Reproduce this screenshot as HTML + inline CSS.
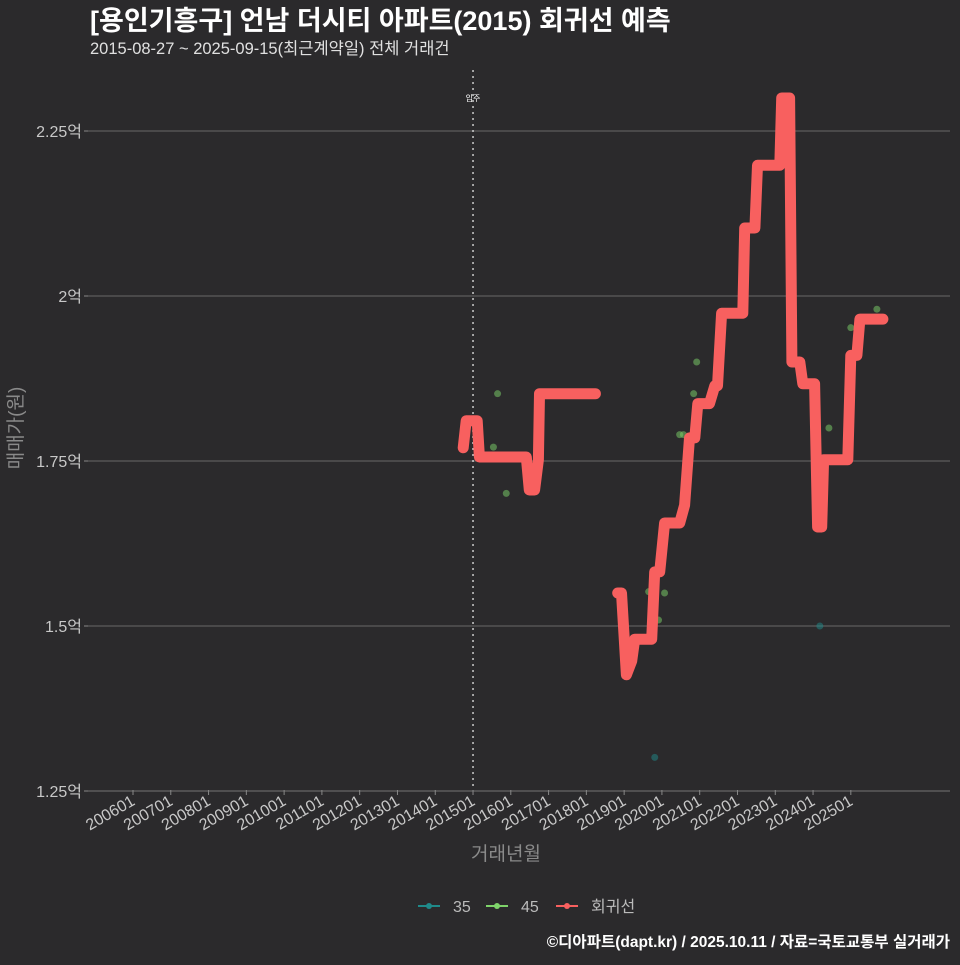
<!DOCTYPE html>
<html><head><meta charset="utf-8"><style>
body{margin:0;background:#2b2a2c;}
svg text{font-family:"Liberation Sans","Noto Sans CJK KR",sans-serif;}
</style></head><body>
<svg id="chart" width="960" height="960" viewBox="0 0 960 960" xmlns="http://www.w3.org/2000/svg">
<rect width="960" height="960" fill="#2b2a2c"/>
<text x="90" y="30" fill="#fff" font-size="27" font-weight="bold">[용인기흥구] 언남 더시티 아파트(2015) 회귀선 예측</text>
<text x="90" y="54" fill="#e0e0e0" font-size="16.5">2015-08-27 ~ 2025-09-15(최근계약일) 전체 거래건</text>
<g id="grid"></g><g id="axes"></g><g id="marks"></g>
<text x="506" y="860" fill="#8a8a8a" font-size="19" text-anchor="middle">거래년월</text>
<text transform="translate(22,428) rotate(-90)" fill="#8a8a8a" font-size="19" text-anchor="middle">매매가(원)</text>
<g>
<g><line x1="418" y1="906" x2="440" y2="906" stroke="#1f8a8a" stroke-width="2"/><circle cx="429" cy="906" r="3" fill="#1f8a8a"/><text x="453" y="912" fill="#bbb" font-size="16">35</text></g>
<g><line x1="486" y1="906" x2="508" y2="906" stroke="#7ed36a" stroke-width="2"/><circle cx="497" cy="906" r="3" fill="#7ed36a"/><text x="521" y="912" fill="#bbb" font-size="16">45</text></g>
<g><line x1="556" y1="906" x2="578" y2="906" stroke="#f8605f" stroke-width="2"/><circle cx="567" cy="906" r="3" fill="#f8605f"/><text x="591" y="912" fill="#bbb" font-size="16">회귀선</text></g>
</g>
<text x="950" y="947" fill="#fff" font-size="15.5" font-weight="bold" text-anchor="end">©디아파트(dapt.kr) / 2025.10.11 / 자료=국토교통부 실거래가</text>
</svg>
<script>
const yTicks=[1.25,1.5,1.75,2,2.25];
const yTickLabels=["1.25억","1.5억","1.75억","2억","2.25억"];
const xTickYears=[2006,2007,2008,2009,2010,2011,2012,2013,2014,2015,2016,2017,2018,2019,2020,2021,2022,2023,2024,2025];
const xTickLabels=["200601","200701","200801","200901","201001","201101","201201","201301","201401","201501","201601","201701","201801","201901","202001","202101","202201","202301","202401","202501"];
const moveInYear=2015;
const seg1X=[2014.74,2014.82,2015.11,2015.17,2016.41,2016.49,2016.63,2016.73,2016.76,2018.24];
const seg1Y=[1.770,1.811,1.811,1.756,1.756,1.706,1.706,1.752,1.852,1.852];
const seg2X=[2018.83,2018.93,2019.06,2019.20,2019.28,2019.73,2019.81,2019.94,2020.07,2020.47,2020.60,2020.73,2020.87,2020.95,2021.26,2021.40,2021.47,2021.58,2022.14,2022.19,2022.46,2022.53,2023.12,2023.17,2023.38,2023.44,2023.65,2023.73,2024.04,2024.12,2024.23,2024.28,2024.92,2025.00,2025.16,2025.24,2025.85];
const seg2Y=[1.550,1.550,1.426,1.447,1.480,1.480,1.582,1.582,1.656,1.656,1.683,1.785,1.785,1.837,1.837,1.864,1.864,1.974,1.974,2.103,2.103,2.198,2.198,2.300,2.300,1.900,1.900,1.867,1.867,1.650,1.650,1.752,1.752,1.910,1.910,1.965,1.965];
const p45X=[2015.54,2015.65,2015.88,2019.65,2020.07,2019.91,2020.47,2020.57,2020.84,2020.92,2024.42,2025.00,2025.69];
const p45Y=[1.771,1.852,1.701,1.552,1.550,1.509,1.790,1.790,1.852,1.900,1.800,1.952,1.980];
const p35X=[2019.81,2024.18];
const p35Y=[1.301,1.500];

const NS="http://www.w3.org/2000/svg";
const xs=t=>133+(t-2006)*37.78;
const ys=v=>296-(v-2)*660;
function mk(tag,attrs,parent){const e=document.createElementNS(NS,tag);for(const k in attrs)e.setAttribute(k,attrs[k]);document.getElementById(parent).appendChild(e);return e;}
yTicks.forEach((v,i)=>{
 const g=mk('line',{x1:88,x2:950,y1:ys(v),y2:ys(v),stroke:i===0?'#666':'#5c5c5c','stroke-width':1.2},'grid');
 
 
 const tk=mk('line',{x1:84,x2:88,y1:ys(v),y2:ys(v),stroke:'#888'},'axes');
 
 
 const t=mk('text',{x:82,y:ys(v)+6,fill:'#c8c8c8','font-size':16,'text-anchor':'end'},'axes');
 t.textContent=yTickLabels[i];
 
 
});
xTickYears.forEach((yr,i)=>{
 const x=xs(yr);
 const tk=mk('line',{x1:x,x2:x,y1:790,y2:795,stroke:'#888'},'axes');
 
 
 const t=mk('text',{transform:`translate(${x+3},804) rotate(-30)`,fill:'#c8c8c8','font-size':16,'text-anchor':'end'},'axes');
 t.textContent=xTickLabels[i];
 
 
});
const mv=mk('line',{x1:xs(moveInYear),x2:xs(moveInYear),y1:70,y2:790,stroke:'#ccc','stroke-width':1.5,'stroke-dasharray':'2,4'},'marks');


const mvt=mk('text',{x:xs(moveInYear),y:101,fill:'#fff','font-size':8,'text-anchor':'middle'},'marks');
mvt.textContent='입주';


p35X.forEach((t,i)=>{const c=mk('circle',{cx:xs(t),cy:ys(p35Y[i]),r:3.5,fill:'#1f8a8a','fill-opacity':0.5},'marks');
 
 });
p45X.forEach((t,i)=>{const c=mk('circle',{cx:xs(t),cy:ys(p45Y[i]),r:3.5,fill:'#7ed36a','fill-opacity':0.5},'marks');
 
 });
[[seg1X,seg1Y],[seg2X,seg2Y]].forEach(([X,Y])=>{
 const d=X.map((t,i)=>(i?'L':'M')+xs(t).toFixed(1)+','+ys(Y[i]).toFixed(1)).join('');
 const p=mk('path',{d:d,fill:'none',stroke:'#f8605f','stroke-width':11,'stroke-linejoin':'round','stroke-linecap':'round'},'marks');
 
 
});
</script>
</body></html>
